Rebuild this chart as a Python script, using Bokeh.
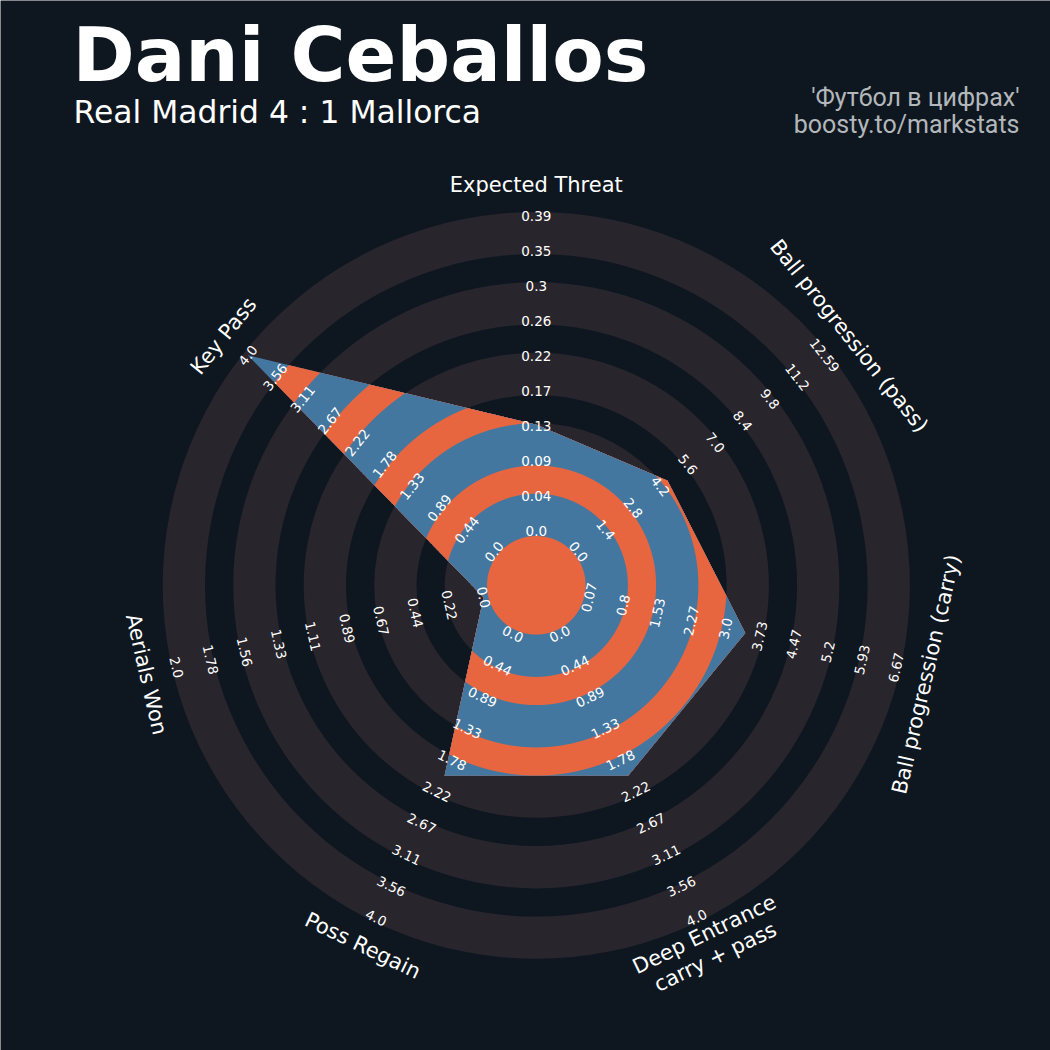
import numpy as np
from bokeh.plotting import figure
from bokeh.models import Range1d
from bokeh.core.properties import value
from bokeh.embed import file_html
from bokeh.resources import INLINE

# ---------------- data ----------------
params = ["Expected Threat", "Ball progression (pass)", "Ball progression (carry)",
          "Deep Entrance\ncarry + pass", "Poss Regain", "Aerials Won", "Key Pass"]
player_values = [0.132, 4.55, 3.43, 2.0, 2.0, 0.0, 4.0]
min_range = [0.0, 0.0, 0.07, 0.0, 0.0, 0.0, 0.0]
max_range = [0.39, 12.59, 6.67, 4.0, 4.0, 2.0, 4.0]
labels_xt = ["0.0", "0.04", "0.09", "0.13", "0.17", "0.22", "0.26", "0.3", "0.35", "0.39"]
labels_pass = ["0.0", "1.4", "2.8", "4.2", "5.6", "7.0", "8.4", "9.8", "11.2", "12.59"]
labels_carry = ["0.07", "0.8", "1.53", "2.27", "3.0", "3.73", "4.47", "5.2", "5.93", "6.67"]
labels_deep = ["0.0", "0.44", "0.89", "1.33", "1.78", "2.22", "2.67", "3.11", "3.56", "4.0"]
labels_regain = ["0.0", "0.44", "0.89", "1.33", "1.78", "2.22", "2.67", "3.11", "3.56", "4.0"]
labels_aerial = ["0.0", "0.22", "0.44", "0.67", "0.89", "1.11", "1.33", "1.56", "1.78", "2.0"]
labels_key = ["0.0", "0.44", "0.89", "1.33", "1.78", "2.22", "2.67", "3.11", "3.56", "4.0"]
range_labels = [labels_xt, labels_pass, labels_carry, labels_deep, labels_regain, labels_aerial, labels_key]
title_text = "Dani Ceballos"
subtitle_text = "Real Madrid 4 : 1 Mallorca"
credit_lines = ["'Футбол в цифрах'", "boosty.to/markstats"]

# ---------------- style ----------------
BG = "#0e1720"
RING = "#28252c"
BLUE = "#4477a0"
ORANGE = "#e8663f"
FONT = "DejaVu Sans"

OFF = 0
W = H = 1050


def Y(py):
    return 1050 - py


p = figure(width=W, height=H, x_range=Range1d(OFF, OFF + W), y_range=Range1d(1050 - OFF - H, 1050 - OFF),
           output_backend="svg", toolbar_location=None, min_border=0)
p.axis.visible = False
p.grid.visible = False
p.outline_line_color = None
p.background_fill_color = BG
p.border_fill_color = BG

cx, cy = 535.8, Y(584.8)
R0, R1 = 54.0, 369.0          # radius of min and max value
center_r = 49.3
ring_w, gap_w = 42.3, 28.2
ring_inner = [center_r + k * (ring_w + gap_w) for k in range(5)]
ring_outer = [r + ring_w for r in ring_inner]

# background rings
p.annulus(x=[cx] * 5, y=[cy] * 5, inner_radius=ring_inner, outer_radius=ring_outer,
          fill_color=RING, line_color=None)

n = len(params)
theta = np.deg2rad(90 - np.arange(n) * 360.0 / n)
frac = [(v - lo) / (hi - lo) for v, lo, hi in zip(player_values, min_range, max_range)]
rad = np.array([R0 + f * (R1 - R0) for f in frac])
P = np.column_stack([rad * np.cos(theta), rad * np.sin(theta)])


def clipped(rho):
    pts = []
    for i in range(n):
        a = P[i]
        b = P[(i + 1) % n]
        s = np.linspace(0, 1, 800, endpoint=False)
        q = a[None, :] + s[:, None] * (b - a)[None, :]
        rr = np.hypot(q[:, 0], q[:, 1])
        f = np.minimum(1.0, rho / rr)
        pts.append(q * f[:, None])
    pts = np.vstack(pts)
    return list(pts[:, 0] + cx), list(pts[:, 1] + cy)


# descending band edges: polygon (blue), then alternating orange gaps / blue rings, orange centre
edges = [1e9]
cols = [BLUE]
for k in range(4, 0, -1):
    edges.append(ring_inner[k])
    cols.append(ORANGE)
    edges.append(ring_outer[k - 1])
    cols.append(BLUE)
edges.append(center_r)
cols.append(ORANGE)

xs, ys = [], []
for e in edges:
    x_, y_ = clipped(e)
    xs.append(x_)
    ys.append(y_)
p.patches(xs=xs, ys=ys, fill_color=cols, line_color=None)


def rot_for(t):
    r = np.rad2deg(t) - 90
    r = (r + 180) % 360 - 180
    if r > 90:
        r -= 180
    elif r < -90:
        r += 180
    return np.deg2rad(r)


# range labels
lx, ly, lt, la = [], [], [], []
for i in range(n):
    rot = rot_for(theta[i])
    for k, lab in enumerate(range_labels[i]):
        r = R0 + k * (R1 - R0) / 9.0
        lx.append(cx + r * np.cos(theta[i]))
        ly.append(cy + r * np.sin(theta[i]))
        lt.append(lab)
        la.append(rot)
p.text(x=lx, y=ly, text=lt, angle=la, text_color="white", text_font=value(FONT),
       text_font_size=value("13.5px"), text_align="center", text_baseline="middle")

# param labels
PR = 400.0
LH = 25.2
px_, py_, pt_, pa_ = [], [], [], []
for i in range(n):
    rot = rot_for(theta[i])
    bx = cx + PR * np.cos(theta[i])
    by = cy + PR * np.sin(theta[i])
    lines = params[i].split("\n")
    m = len(lines)
    ux, uy = -np.sin(rot), np.cos(rot)
    for j, line in enumerate(lines):
        off = ((m - 1) / 2.0 - j) * LH
        px_.append(bx + ux * off)
        py_.append(by + uy * off)
        pt_.append(line)
        pa_.append(rot)
p.text(x=px_, y=py_, text=pt_, angle=pa_, text_color="white", text_font=value(FONT),
       text_font_size=value("21px"), text_align="center", text_baseline="middle")

# titles
p.text(x=[72], y=[Y(54)], text=[title_text], text_color="white", text_font=value(FONT),
       text_font_style="bold", text_font_size=value("75px"), text_align="left", text_baseline="middle")
p.text(x=[73], y=[Y(111)], text=[subtitle_text], text_color="white", text_font=value(FONT),
       text_font_size=value("31.4px"), text_align="left", text_baseline="middle")
p.text(x=[1019, 1019], y=[Y(96.5), Y(123.5)], text=credit_lines, text_color="#b3b7bb",
       text_font=value("Roboto"), text_font_size=value("25px"), text_align="right",
       text_baseline="middle")

open("out.html", "w").write(file_html(p, INLINE))
